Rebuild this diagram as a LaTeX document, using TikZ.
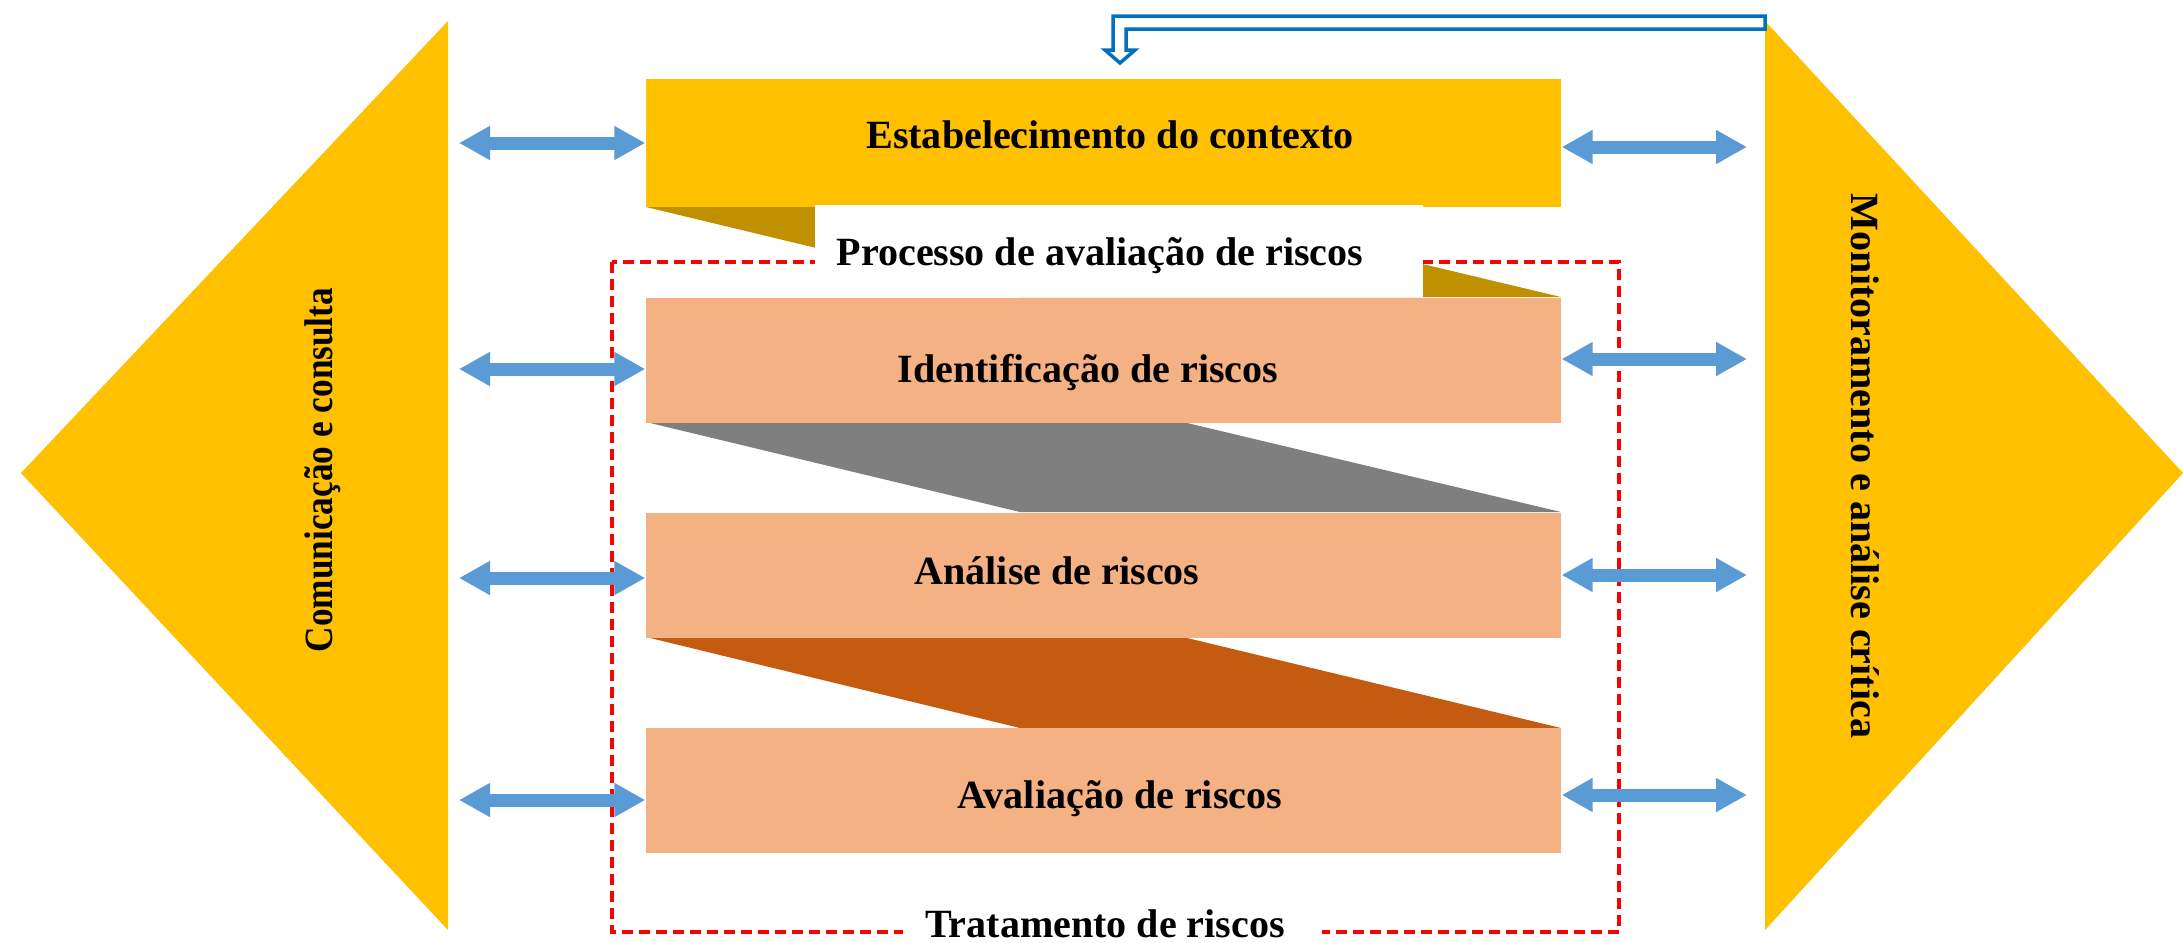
\documentclass[tikz,border=0pt]{standalone}
\usepackage{fontspec}
\setmainfont{Liberation Serif}
\usetikzlibrary{arrows.meta}
\definecolor{gold}{HTML}{FFC000}
\definecolor{golddark}{HTML}{BF9000}
\definecolor{salmon}{HTML}{F4B183}
\definecolor{greyband}{HTML}{7F7F7F}
\definecolor{rustband}{HTML}{C55A11}
\definecolor{arrowblue}{HTML}{5B9BD5}
\definecolor{loopblue}{HTML}{0070C0}
\begin{document}
\begin{tikzpicture}[x=0.1mm,y=-0.1mm,
  lbl/.style={font=\fontsize{11.4}{13}\selectfont\bfseries, inner sep=0pt},
  steptext/.style={lbl, anchor=base},
  stepbox/.style={fill=#1, minimum width=91.5mm, minimum height=12.5mm, inner sep=0pt},
  twoway/.style={arrowblue, line width=1.3mm,
    {Triangle[length=3.1mm,width=3.2mm]}-{Triangle[length=3.1mm,width=3.2mm]}},
  redbox/.style={draw=red, line width=0.35mm, dash pattern=on 1.1mm off 0.6mm}]
\useasboundingbox (0,0) rectangle (2183,942);
\fill[white] (0,0) rectangle (2183,942);

% side triangles
\fill[gold] (21,473) -- (448,21) -- (448,930) -- cycle;
\fill[gold] (1765,21) -- (2183,473) -- (1765,930) -- cycle;
\node[lbl, rotate=90] (comm) at (323,470) {\scalebox{0.88}[1]{Comunicação e consulta}};
\node[lbl, rotate=-90] (mon) at (1865,466) {Monitoramento e análise crítica};

% connecting bands
\fill[golddark] (646,207) -- (1183,207) -- (1561,297) -- (1020,297) -- cycle;
\fill[greyband] (646,422) -- (1183,422) -- (1561,512) -- (1020,512) -- cycle;
\fill[rustband] (646,637) -- (1183,637) -- (1561,728) -- (1020,728) -- cycle;

% red dashed frame
\draw[redbox] (612,262) rectangle (1619,932);

% step boxes
\node[stepbox=gold, minimum height=12.8mm] (ctx) at (1103.5,143) {};
\node[stepbox=salmon] (ident) at (1103.5,360) {};
\node[stepbox=salmon] (anal) at (1103.5,575) {};
\node[stepbox=salmon] (aval) at (1103.5,790.5) {};
\node[steptext] (ctxt) at (1110,148) {Estabelecimento do contexto};
\node[steptext] (identt) at (1088,382) {Identificação de riscos};
\node[steptext] (analt) at (1057,584) {Análise de riscos};
\node[steptext] (avalt) at (1120,808) {Avaliação de riscos};

% white labels
\node[fill=white, minimum width=60.8mm, minimum height=9.2mm, inner sep=0pt] (procbg) at (1119,251) {};
\node[steptext] (proc) at (1100,265) {Processo de avaliação de riscos};
\fill[white] (903,877) rectangle (1322,950);
\node[steptext] (trat) at (1105,937) {Tratamento de riscos};

% feedback loop arrow (hollow)
\draw[loopblue, line width=0.35mm, fill=white, line join=miter]
  (1765,16) -- (1113,16) -- (1113,50) -- (1105,50) -- (1120,63) -- (1135,50)
  -- (1126,50) -- (1126,29) -- (1765,29) -- cycle;

% left double arrows
\coordinate (la1) at (459,143);
\coordinate (la2) at (459,369);
\coordinate (la3) at (459,578);
\coordinate (la4) at (459,800);
\draw[twoway] (la1) -- (ctx.west |- la1);
\draw[twoway] (la2) -- (ident.west |- la2);
\draw[twoway] (la3) -- (anal.west |- la3);
\draw[twoway] (la4) -- (aval.west |- la4);

% right double arrows
\coordinate (ra1) at (1747,147);
\coordinate (ra2) at (1747,359);
\coordinate (ra3) at (1747,575);
\coordinate (ra4) at (1747,795);
\draw[twoway] (ctx.east |- ra1) -- (ra1);
\draw[twoway] (ident.east |- ra2) -- (ra2);
\draw[twoway] (anal.east |- ra3) -- (ra3);
\draw[twoway] (aval.east |- ra4) -- (ra4);
\end{tikzpicture}
\end{document}
